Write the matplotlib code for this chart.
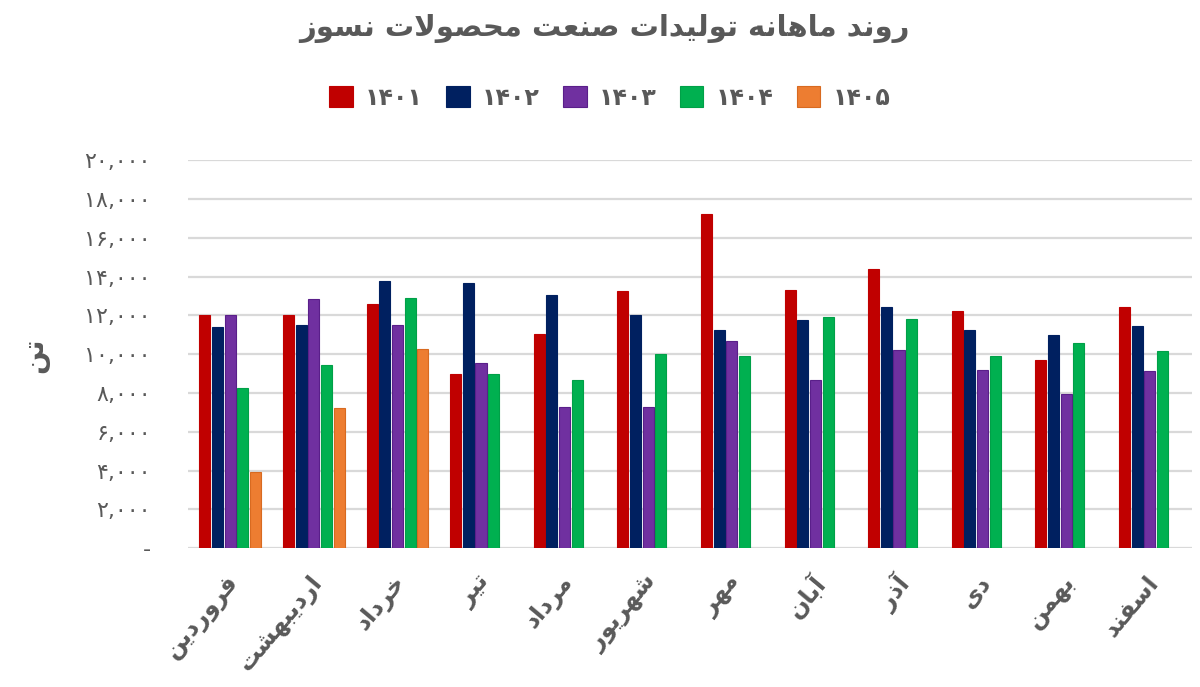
import matplotlib
matplotlib.use('Agg')
import matplotlib.pyplot as plt
import numpy as np

# ---------------- data ----------------
months = ['فروردین', 'اردیبهشت', 'خرداد', 'تیر', 'مرداد', 'شهریور',
          'مهر', 'آبان', 'آذر', 'دی', 'بهمن', 'اسفند']
years = ['۱۴۰۱', '۱۴۰۲', '۱۴۰۳', '۱۴۰۴', '۱۴۰۵']
v1401 = [12000, 12030, 12600, 8980, 11050, 13260, 17240, 13310, 14400, 12230, 9710, 12450]
v1402 = [11400, 11500, 13780, 13680, 13060, 12030, 11250, 11770, 12440, 11250, 11000, 11460]
v1403 = [12000, 12850, 11500, 9550, 7290, 7290, 10690, 8680, 10220, 9190, 7950, 9140]
v1404 = [8260, 9450, 12900, 8980, 8680, 10020, 9920, 11890, 11820, 9920, 10570, 10170]
v1405 = [3930, 7230, 10270, np.nan, np.nan, np.nan, np.nan, np.nan, np.nan, np.nan, np.nan, np.nan]
ytick_values = [0, 2000, 4000, 6000, 8000, 10000, 12000, 14000, 16000, 18000, 20000]
ytick_labels = ['-', '۲,۰۰۰', '۴,۰۰۰', '۶,۰۰۰', '۸,۰۰۰', '۱۰,۰۰۰',
                '۱۲,۰۰۰', '۱۴,۰۰۰', '۱۶,۰۰۰', '۱۸,۰۰۰', '۲۰,۰۰۰']
title = 'روند ماهانه تولیدات صنعت محصولات نسوز'
ylabel = 'تن'

colors = ['#c00000', '#002060', '#7030a0', '#00b050', '#ed7d31']
edges = ['#c00000', '#002060', '#5a1f8a', '#00a048', '#d86a20']

# ------------- minimal Arabic/Persian shaper -------------
FORMS = {
    'ا': (0xFE8D, 0xFE8E), 'آ': (0xFE81, 0xFE82),
    'ب': (0xFE8F, 0xFE90, 0xFE91, 0xFE92), 'ت': (0xFE95, 0xFE96, 0xFE97, 0xFE98),
    'ح': (0xFEA1, 0xFEA2, 0xFEA3, 0xFEA4), 'خ': (0xFEA5, 0xFEA6, 0xFEA7, 0xFEA8),
    'د': (0xFEA9, 0xFEAA), 'ذ': (0xFEAB, 0xFEAC), 'ر': (0xFEAD, 0xFEAE), 'ز': (0xFEAF, 0xFEB0),
    'س': (0xFEB1, 0xFEB2, 0xFEB3, 0xFEB4), 'ش': (0xFEB5, 0xFEB6, 0xFEB7, 0xFEB8),
    'ص': (0xFEB9, 0xFEBA, 0xFEBB, 0xFEBC), 'ع': (0xFEC9, 0xFECA, 0xFECB, 0xFECC),
    'ف': (0xFED1, 0xFED2, 0xFED3, 0xFED4), 'ل': (0xFEDD, 0xFEDE, 0xFEDF, 0xFEE0),
    'م': (0xFEE1, 0xFEE2, 0xFEE3, 0xFEE4), 'ن': (0xFEE5, 0xFEE6, 0xFEE7, 0xFEE8),
    'ه': (0xFEE9, 0xFEEA, 0xFEEB, 0xFEEC), 'و': (0xFEED, 0xFEEE),
    'ی': (0xFEEF, 0xFEF0, 0xFEF3, 0xFEF4),
}


def shape(text):
    out = []
    i = 0
    n = len(text)
    while i < n:
        c = text[i]
        if c not in FORMS:
            out.append(c)
            i += 1
            continue
        prev = text[i - 1] if i > 0 else ''
        prev_j = prev in FORMS and len(FORMS[prev]) == 4
        if c == 'ل' and i + 1 < n and text[i + 1] in ('ا', 'آ'):
            lig = (0xFEFB, 0xFEFC) if text[i + 1] == 'ا' else (0xFEF5, 0xFEF6)
            out.append(chr(lig[1] if prev_j else lig[0]))
            i += 2
            continue
        f = FORMS[c]
        nxt = text[i + 1] if i + 1 < n else ''
        next_j = len(f) == 4 and nxt in FORMS
        if prev_j and next_j:
            g = f[3]
        elif prev_j:
            g = f[1]
        elif next_j:
            g = f[2]
        else:
            g = f[0]
        out.append(chr(g))
        i += 1
    return ''.join(out)[::-1]


# ---------------- plot ----------------
plt.rcParams['font.family'] = ['DejaVu Sans']
grey = '#595959'

fig = plt.figure(figsize=(12, 6.87), dpi=100)
ax = fig.add_axes([0.157, 0.202, 0.836, 0.565])

series = [v1401, v1402, v1403, v1404, v1405]
x = np.arange(len(months))
step = 0.151
bw = 0.132
for k, vals in enumerate(series):
    ax.bar(x + (k - 2) * step, vals, width=bw, color=colors[k], edgecolor=edges[k],
           linewidth=0.8, zorder=3, label=years[k])

ax.set_xlim(-0.5, 11.5)
ax.set_ylim(0, 20000)
ax.set_yticks(ytick_values)
ax.set_yticklabels(ytick_labels, fontsize=16, color=grey)
ax.tick_params(axis='y', length=0, pad=27)
ax.grid(axis='y', color='#d9d9d9', linewidth=1.6, zorder=0)
ax.set_axisbelow(True)
for s in ax.spines.values():
    s.set_visible(False)

ax.set_xticks(x)
ax.set_xticklabels([])
ax.tick_params(axis='x', length=0)
for i, m in enumerate(months):
    ax.text(i - 0.06, -1150, shape(m), rotation=50, rotation_mode='anchor',
            ha='right', va='top', fontsize=17, fontweight='bold', color=grey)

fig.text(0.029, 0.483, shape(ylabel), rotation=90, fontsize=20, fontweight='bold',
         color=grey, ha='center', va='center')
fig.text(0.504, 0.958, shape(title), fontsize=21, fontweight='bold', color=grey,
         ha='center', va='center')

handles, labels = ax.get_legend_handles_labels()
fig.legend(handles, labels, loc='center', bbox_to_anchor=(0.508, 0.858), ncol=5,
           frameon=False, prop={'weight': 'bold', 'size': 17},
           handlelength=1.0, handleheight=1.0, columnspacing=1.0, handletextpad=0.5,
           labelcolor=grey)

fig.savefig('out.png', dpi=100, facecolor='white')
